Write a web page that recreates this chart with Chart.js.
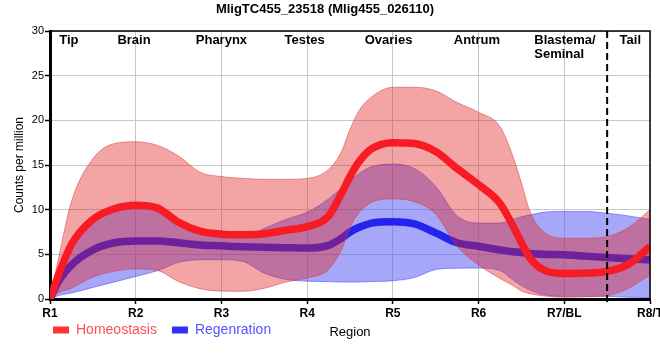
<!DOCTYPE html>
<html><head><meta charset="utf-8">
<script src="https://cdn.jsdelivr.net/npm/chart.js@4.4.1/dist/chart.umd.min.js"></script>
<style>html,body{margin:0;padding:0;background:#fff}</style>
</head><body>
<canvas id="c" width="660" height="360"></canvas>
<script>
const xLabels = ['R1','R2','R3','R4','R5','R6','R7/BL','R8/T'];
const xPos = [1, 1.1, 1.25, 1.5, 1.75, 2, 2.25, 2.5, 2.75, 3, 3.25, 3.5, 3.75, 4, 4.25, 4.4, 4.5, 4.6, 4.75, 5, 5.25, 5.5, 5.75, 6, 6.25, 6.4, 6.5, 6.6, 6.75, 7, 7.25, 7.5, 7.75, 8];
const homeoMean  = [0, 2.7, 6.1, 8.9, 10.1, 10.5, 10.2, 8.6, 7.6, 7.26, 7.2, 7.3, 7.7, 8.1, 9.3, 11.8, 13.7, 15.3, 16.8, 17.5, 17.4, 16.5, 14.6, 12.8, 10.7, 8.2, 6.3, 4.6, 3.3, 2.85, 2.9, 3.1, 3.9, 5.9];
const homeoUpper = [0, 4.6, 10.9, 15.7, 17.4, 17.6, 17.2, 16.0, 14.2, 13.7, 13.5, 13.4, 13.4, 13.5, 14.5, 16.5, 19.0, 21.0, 22.6, 23.7, 23.7, 23.3, 22.0, 20.9, 19.3, 16.0, 13.0, 9.8, 7.6, 6.8, 6.8, 7.0, 8.0, 10.0];
const homeoLower = [0, 0.7, 1.2, 2.45, 3.1, 3.35, 3.2, 1.95, 1.15, 0.88, 0.86, 1.2, 1.9, 2.35, 3.3, 5.5, 8.0, 9.6, 10.8, 11.2, 10.9, 9.5, 5.9, 3.8, 2.3, 1.5, 0.9, 0.6, 0.35, 0.2, 0.25, 0.37, 1.2, 2.7];
const regenMean  = [0, 2.0, 3.8, 5.5, 6.3, 6.5, 6.5, 6.3, 6.05, 5.95, 5.85, 5.8, 5.75, 5.7, 6.0, 6.8, 7.5, 8.0, 8.5, 8.65, 8.4, 7.4, 6.3, 5.9, 5.5, 5.3, 5.2, 5.1, 5.0, 4.95, 4.8, 4.65, 4.5, 4.4];
const regenUpper = [0, 2.5, 5.8, 8.6, 9.8, 10.2, 9.9, 8.4, 7.3, 6.95, 6.95, 7.9, 8.9, 9.7, 11.2, 12.4, 13.2, 14.0, 14.8, 15.1, 14.6, 12.6, 9.3, 8.5, 8.5, 8.9, 9.2, 9.4, 9.7, 9.8, 9.8, 9.6, 9.3, 8.9];
const regenLower = [0, 0.4, 0.67, 1.3, 1.9, 2.53, 3.16, 4.1, 4.4, 4.4, 4.2, 2.9, 2.2, 2.0, 1.95, 1.9, 1.9, 1.9, 1.95, 2.05, 2.4, 3.3, 3.45, 3.46, 3.2, 2.15, 1.5, 1.0, 0.5, 0.3, 0.3, 0.3, 0.2, 0.15];
const yTicks = [0, 5, 10, 15, 20, 25, 30];
const regionNames = [['Tip'], ['Brain'], ['Pharynx'], ['Testes'], ['Ovaries'], ['Antrum'], ['Blastema/', 'Seminal'], ['Tail']];
const regionPos = [1.22, 1.98, 3.0, 3.97, 4.95, 5.98, 6.65, 7.77];
const regionAlign = ['center', 'center', 'center', 'center', 'center', 'center', 'left', 'center'];
const dividerAt = 7.5;
const seriesNames = ['Homeostasis', 'Regenration'];
const legendText = ['#ff4d5c', '#5555ff'];

const FONT = "'Liberation Sans', Arial, sans-serif";
Chart.defaults.font.family = FONT;
Chart.defaults.color = '#000';

const pts = ys => xPos.map((x, i) => ({x: x, y: ys[i]}));
const redBandBorder = 'rgba(215,70,70,0.55)';
const blueBandBorder = 'rgba(90,90,255,0.65)';

const decor = {
  id: 'decor',
  afterLayout(chart) {
    const lg = chart.legend;
    if (lg) { lg.left = 38; lg.top = 308; }
  },
  afterDatasetsDraw(chart) {
    const {ctx, chartArea: a, scales: {x}} = chart;
    ctx.save();
    ctx.strokeStyle = '#000';
    ctx.lineWidth = 1.5;
    ctx.beginPath();
    ctx.moveTo(a.left, a.top); ctx.lineTo(a.right, a.top); ctx.lineTo(a.right, a.bottom);
    ctx.stroke();
    const dx = x.getPixelForValue(dividerAt);
    ctx.setLineDash([7, 4]);
    ctx.lineWidth = 2;
    ctx.beginPath(); ctx.moveTo(dx, a.top); ctx.lineTo(dx, a.bottom + 6); ctx.stroke();
    ctx.setLineDash([]);
    ctx.fillStyle = '#000';
    ctx.font = 'bold 13px ' + FONT;
    ctx.textBaseline = 'middle';
    regionNames.forEach((lines, i) => {
      ctx.textAlign = regionAlign[i];
      const px = x.getPixelForValue(regionPos[i]);
      lines.forEach((t, j) => ctx.fillText(t, px, a.top + 9.5 + j * 13.5));
    });
    ctx.restore();
  }
};

new Chart(document.getElementById('c'), {
  type: 'line',
  data: {
    datasets: [
      {label: seriesNames[0], data: pts(homeoMean), borderColor: '#f81b24', backgroundColor: '#ff3535', borderWidth: 7.5, fill: false, order: 1},
      {label: seriesNames[1], data: pts(regenMean), borderColor: '#2323ee', backgroundColor: '#3030f5', borderWidth: 7.5, fill: false, order: 3},
      {label: 'Homeostasis upper', data: pts(homeoUpper), borderColor: redBandBorder, backgroundColor: 'rgba(225,30,30,0.4)', borderWidth: 1, fill: '+1', order: 2},
      {label: 'Homeostasis lower', data: pts(homeoLower), borderColor: redBandBorder, borderWidth: 1, fill: false, order: 2},
      {label: 'Regenration upper', data: pts(regenUpper), borderColor: blueBandBorder, backgroundColor: 'rgba(80,80,245,0.5)', borderWidth: 1, fill: '+1', order: 4},
      {label: 'Regenration lower', data: pts(regenLower), borderColor: blueBandBorder, borderWidth: 1, fill: false, order: 4}
    ]
  },
  options: {
    responsive: false,
    animation: false,
    devicePixelRatio: 1,
    events: [],
    elements: {point: {radius: 0, hoverRadius: 0}, line: {cubicInterpolationMode: 'monotone'}},
    layout: {padding: {left: 0, right: 10, top: 0, bottom: 0}},
    plugins: {
      title: {display: true, text: 'MligTC455_23518 (Mlig455_026110)', color: '#000', font: {size: 13, weight: 'bold'}, padding: {top: 2, bottom: 13.4}},
      legend: {
        position: 'bottom', align: 'start',
        labels: {
          boxWidth: 16, boxHeight: 7, padding: 15, font: {size: 14},
          generateLabels: chart => [0, 1].map(i => {
            const ds = chart.data.datasets[i];
            return {text: ds.label, fillStyle: ds.backgroundColor, strokeStyle: ds.backgroundColor, lineWidth: 0, fontColor: legendText[i], datasetIndex: i, hidden: false};
          })
        }
      },
      tooltip: {enabled: false}
    },
    scales: {
      x: {
        type: 'linear', min: 1, max: 8,
        afterFit: s => { s.height = 22; s.paddingLeft = 0; s.paddingRight = 0; },
        ticks: {stepSize: 1, autoSkip: false, maxRotation: 0, color: '#000', font: {size: 12, weight: 'bold'}, padding: 2,
          callback: v => xLabels[Math.round(v) - 1]},
        grid: {color: '#c8c8c8', tickColor: '#000', tickLength: 5, tickWidth: 1.5},
        border: {color: '#000', width: 3},
        title: {display: true, text: 'Region', color: '#000', font: {size: 13}, padding: {top: 0, bottom: -18.8}}
      },
      y: {
        min: 0, max: 30,
        afterFit: s => { s.width = 50; },
        afterBuildTicks: s => { s.ticks = yTicks.map(v => ({value: v})); },
        ticks: {color: '#000', font: {size: 11}, padding: 1},
        grid: {color: '#c8c8c8', tickColor: '#000', tickLength: 5, tickWidth: 1.5},
        border: {color: '#000', width: 3},
        title: {display: true, text: 'Counts per million', color: '#000', font: {size: 12}, padding: {top: 12, bottom: 0}}
      }
    }
  },
  plugins: [decor]
});
</script>
</body></html>
